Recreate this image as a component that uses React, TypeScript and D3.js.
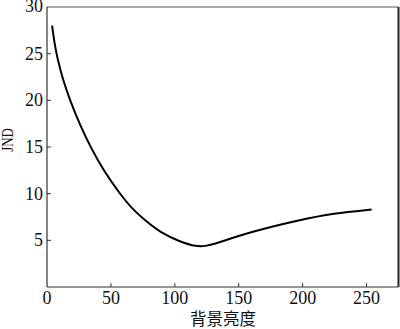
import React from "react";
import * as d3 from "d3";

// JND vs background luminance
const LUMA = [4, 6, 8, 12, 18, 26, 34, 45, 57, 67, 78, 88, 104, 117, 125, 133, 159, 198, 224, 254];
const JND = [28, 26, 24.6, 22.4, 20, 17.3, 15, 12.3, 10, 8.3, 7, 5.9, 4.85, 4.3, 4.4, 4.7, 5.9, 7.2, 7.9, 8.3];
const X_TICKS = [0, 50, 100, 150, 200, 250];
const Y_TICKS = [5, 10, 15, 20, 25, 30];

export default function App() {
  const width = 400;
  const height = 329;
  const margin = { top: 7, right: 1.5, bottom: 42, left: 47 };
  const innerW = width - margin.left - margin.right;
  const innerH = height - margin.top - margin.bottom;

  const x = d3.scaleLinear().domain([0, 275]).range([0, innerW]);
  const y = d3.scaleLinear().domain([0, 30]).range([innerH, 0]);

  const pts = LUMA.map((v, i) => [v, JND[i]] as [number, number]);
  const line = d3.line<[number, number]>()
    .x(d => x(d[0]))
    .y(d => y(d[1]))
    .curve(d3.curveBasis);

  const serif = "'Liberation Serif', 'Times New Roman', serif";

  return (
    <svg width={width} height={height} style={{ position: "absolute", left: 0, top: 0, background: "#fff" }}>
      <g transform={`translate(${margin.left},${margin.top})`}>
        {/* frame */}
        <line x1={0} x2={innerW} y1={0} y2={0} stroke="#555" strokeWidth={1} />
        <line x1={innerW} x2={innerW} y1={0} y2={innerH} stroke="#222" strokeWidth={2} />
        <line x1={0} x2={0} y1={0} y2={innerH} stroke="#333" strokeWidth={1.2} />
        <line x1={0} x2={innerW} y1={innerH} y2={innerH} stroke="#333" strokeWidth={1.2} />

        {X_TICKS.map(t => (
          <g key={"x" + t} transform={`translate(${x(t)},${innerH})`}>
            {t > 0 && <line y1={0} y2={-4} stroke="#333" strokeWidth={1} />}
            <text y={16.5} textAnchor="middle" fontFamily={serif} fontSize={18} fill="#111">{t}</text>
          </g>
        ))}

        {Y_TICKS.map(t => (
          <g key={"y" + t} transform={`translate(0,${y(t)})`}>
            {t < 30 && <line x1={0} x2={4} stroke="#333" strokeWidth={1} />}
            <text x={-4} dy={t === 30 ? "0.3em" : "0.34em"} textAnchor="end" fontFamily={serif} fontSize={18} fill="#111">{t}</text>
          </g>
        ))}

        <path d={line(pts) ?? ""} fill="none" stroke="#000" strokeWidth={2} />
      </g>

      <text
        transform={`translate(13,140) rotate(-90)`}
        textAnchor="middle"
        fontFamily={serif}
        fontSize={17}
        textLength={23.5}
        lengthAdjust="spacingAndGlyphs"
        fill="#111"
      >JND</text>

      <text x={223} y={325} textAnchor="middle" fontFamily="'Noto Sans CJK SC', sans-serif" fontSize={16.5} fill="#111">背景亮度</text>
    </svg>
  );
}
